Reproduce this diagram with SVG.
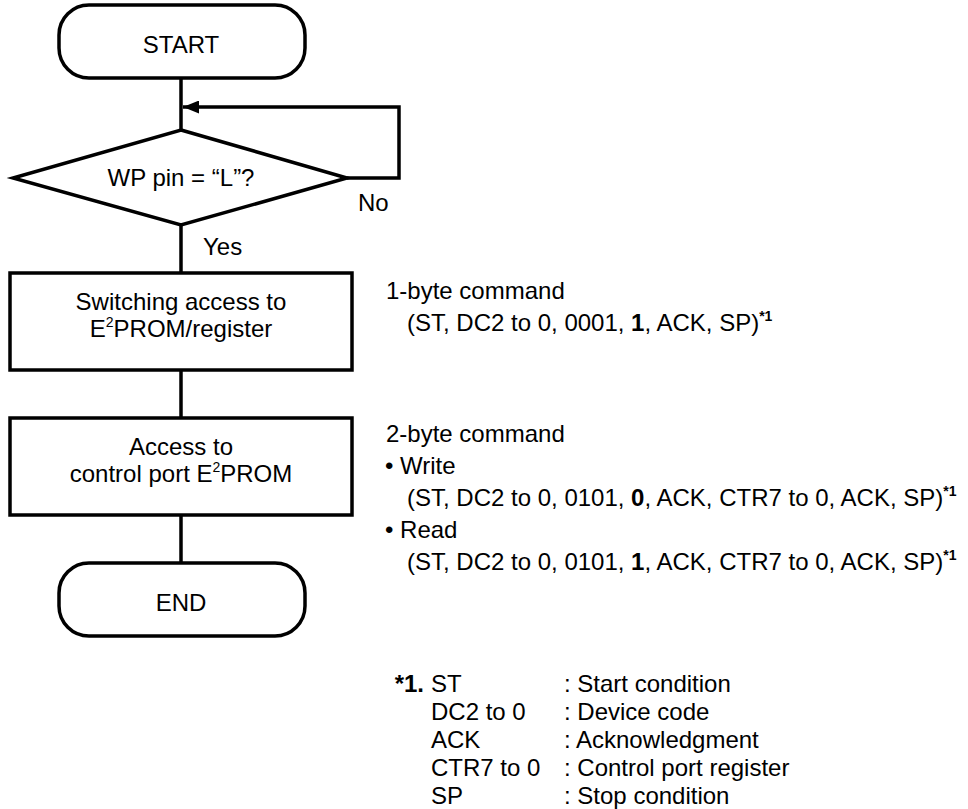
<svg xmlns="http://www.w3.org/2000/svg" width="968" height="809" viewBox="0 0 968 809">
<defs>
<style>
.s{fill:#fff;stroke:#000;stroke-width:3.5}
.c{fill:none;stroke:#000;stroke-width:3.5}
text{font-family:"Liberation Sans",Arial,sans-serif;font-size:24px;fill:#000}
.m{text-anchor:middle}
.b{font-weight:bold}
.sup{font-size:14px}
.sb{font-size:14px;font-weight:bold}
</style>
<marker id="ah" viewBox="0 0 16 13" refX="16" refY="6.5" markerWidth="16" markerHeight="13" markerUnits="userSpaceOnUse" orient="auto">
<path d="M0,0 L16,6.5 L0,13 Z" fill="#000"/>
</marker>
</defs>
<rect width="968" height="809" fill="#fff"/>
<g id="connectors">
<line class="c" x1="181" y1="78" x2="181" y2="130"/>
<line class="c" x1="181" y1="225" x2="181" y2="273"/>
<line class="c" x1="181" y1="370" x2="181" y2="418"/>
<line class="c" x1="181" y1="515" x2="181" y2="563"/>
<polyline class="c" points="347,178 399,178 399,107 183,107" marker-end="url(#ah)"/>
<text x="358" y="211">No</text>
<text x="203" y="255">Yes</text>
</g>
<g id="start">
<rect class="s" x="59" y="5" width="246" height="73" rx="30" ry="30"/>
<text class="m" x="181" y="53">START</text>
</g>
<g id="decision">
<polygon class="s" points="181,130 347,178 181,225 13,178"/>
<text class="m" x="181" y="186">WP pin = “L”?</text>
</g>
<g id="switch">
<rect class="s" x="10" y="273" width="342" height="97"/>
<text class="m" x="181" y="310">Switching access to</text>
<text class="m" x="181" y="337">E<tspan class="sup" dy="-10">2</tspan><tspan dy="10">PROM/register</tspan></text>
</g>
<g id="access">
<rect class="s" x="10" y="418" width="342" height="97"/>
<text class="m" x="181" y="455">Access to</text>
<text class="m" x="181" y="482">control port E<tspan class="sup" dy="-10">2</tspan><tspan dy="10">PROM</tspan></text>
</g>
<g id="end">
<rect class="s" x="59" y="563" width="246" height="73" rx="30" ry="30"/>
<text class="m" x="181" y="611">END</text>
</g>
<g id="notes">
<text x="386" y="299">1-byte command</text>
<text x="407" y="331">(ST, DC2 to 0, 0001, <tspan class="b">1</tspan>, ACK, SP)<tspan class="sb" dy="-10">*1</tspan></text>
<text x="386" y="442">2-byte command</text>
<text x="385" y="474">• Write</text>
<text x="407" y="506">(ST, DC2 to 0, 0101, <tspan class="b">0</tspan>, ACK, CTR7 to 0, ACK, SP)<tspan class="sb" dy="-10">*1</tspan></text>
<text x="385" y="538">• Read</text>
<text x="407" y="570">(ST, DC2 to 0, 0101, <tspan class="b">1</tspan>, ACK, CTR7 to 0, ACK, SP)<tspan class="sb" dy="-10">*1</tspan></text>
</g>
<g id="footnote">
<text class="b" x="424" y="692" text-anchor="end">*1.</text>
<text x="431" y="692">ST</text>
<text x="564" y="692">: Start condition</text>
<text x="431" y="720">DC2 to 0</text>
<text x="564" y="720">: Device code</text>
<text x="431" y="748">ACK</text>
<text x="564" y="748">: Acknowledgment</text>
<text x="431" y="776">CTR7 to 0</text>
<text x="564" y="776">: Control port register</text>
<text x="431" y="804">SP</text>
<text x="564" y="804">: Stop condition</text>
</g>
</svg>
